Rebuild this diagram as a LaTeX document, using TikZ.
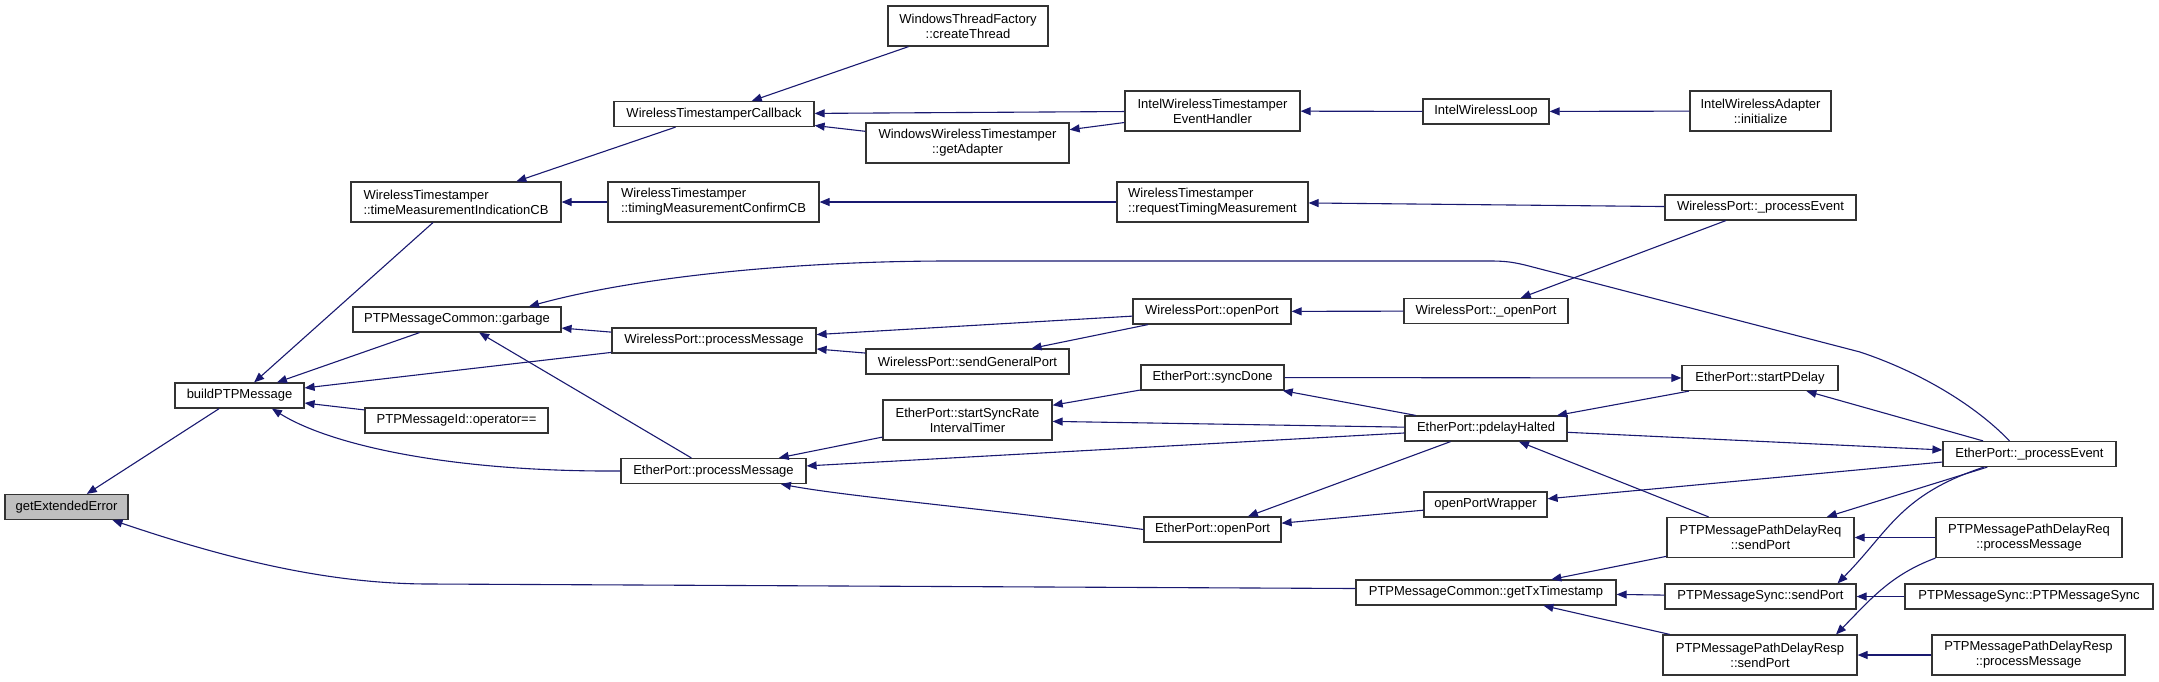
\documentclass[tikz,border=0pt]{standalone}
\usepackage{fontspec}
\setmainfont{Liberation Sans}
\usetikzlibrary{arrows.meta}
\definecolor{edgeblue}{HTML}{191970}

\begin{document}
\begin{tikzpicture}[x=1pt, y=-1pt,
  func/.style={draw=black!80, line width=1.2pt, fill=white, inner sep=0pt, minimum height=25pt, align=center, font=\fontsize{13}{15}\selectfont},
  func2/.style={func, minimum height=40pt},
  root/.style={func, fill=black!25},
  call/.style={draw=edgeblue, line width=1.1pt, -{Triangle[length=10pt,width=8pt]}}
]
\useasboundingbox (0,0) rectangle (2159,681);

\node[root, minimum width=123pt] (geterr) at (66.5,507) {getExtendedError};
\node[func, minimum width=129pt] (build) at (239.5,395.5) {buildPTPMessage};

\node[func2, minimum width=210pt, align=left] (tmind) at (456,202) {WirelessTimestamper\\::timeMeasurementIndicationCB};
\node[func, minimum width=208pt] (garbage) at (457,319.5) {PTPMessageCommon::garbage};
\node[func, minimum width=183pt] (opeq) at (456.5,420.5) {PTPMessageId::operator==};

\node[func, minimum width=200pt] (wtcb) at (714,114) {WirelessTimestamperCallback};
\node[func2, minimum width=211pt, align=left] (tmconf) at (713.5,202) {WirelessTimestamper\\::timingMeasurementConfirmCB};
\node[func, minimum width=204pt] (wpmsg) at (714,340.5) {WirelessPort::processMessage};
\node[func, minimum width=185pt] (epmsg) at (713.5,471) {EtherPort::processMessage};

\node[func2, minimum width=160pt] (mkthread) at (968,26) {WindowsThreadFactory\\::createThread};
\node[func2, minimum width=203pt] (adapter) at (967.5,143) {WindowsWirelessTimestamper\\::getAdapter};
\node[func, minimum width=203pt] (sendgen) at (967.5,361.5) {WirelessPort::sendGeneralPort};
\node[func2, minimum width=169pt] (ratetimer) at (967.5,420) {EtherPort::startSyncRate\\IntervalTimer};

\node[func2, minimum width=175pt] (iwevent) at (1212.5,111) {IntelWirelessTimestamper\\EventHandler};
\node[func2, minimum width=191pt, align=left] (reqtm) at (1212.5,202) {WirelessTimestamper\\::requestTimingMeasurement};
\node[func, minimum width=158pt] (wpopen) at (1212,311.5) {WirelessPort::openPort};
\node[func, minimum width=143pt] (syncdone) at (1212.5,377.5) {EtherPort::syncDone};
\node[func, minimum width=137pt] (epopen) at (1212.5,529.5) {EtherPort::openPort};

\node[func, minimum width=126pt] (iwloop) at (1486,111.5) {IntelWirelessLoop};
\node[func, minimum width=164pt] (wpopenu) at (1486,311) {WirelessPort::\_openPort};
\node[func, minimum width=162pt] (halted) at (1486,428.5) {EtherPort::pdelayHalted};
\node[func, minimum width=123pt] (wrapper) at (1485.5,504.5) {openPortWrapper};
\node[func, minimum width=260pt] (txstamp) at (1486,592.5) {PTPMessageCommon::getTxTimestamp};

\node[func2, minimum width=141pt] (iwinit) at (1760.5,111) {IntelWirelessAdapter\\::initialize};
\node[func, minimum width=191pt] (wpevent) at (1760.5,207.5) {WirelessPort::\_processEvent};
\node[func, minimum width=156pt] (pdelay) at (1760,378) {EtherPort::startPDelay};
\node[func2, minimum width=187pt] (reqsend) at (1760.5,537.5) {PTPMessagePathDelayReq\\::sendPort};
\node[func, minimum width=191pt] (syncsend) at (1760.5,596.5) {PTPMessageSync::sendPort};
\node[func2, minimum width=194pt] (respsend) at (1760,655) {PTPMessagePathDelayResp\\::sendPort};

\node[func, minimum width=173pt] (epevent) at (2029.5,454) {EtherPort::\_processEvent};
\node[func2, minimum width=186pt] (reqmsg) at (2029,537.5) {PTPMessagePathDelayReq\\::processMessage};
\node[func, minimum width=248pt] (synctor) at (2029,596.5) {PTPMessageSync::PTPMessageSync};
\node[func2, minimum width=193pt] (respmsg) at (2028.5,655) {PTPMessagePathDelayResp\\::processMessage};

\draw[call] (build) -- (geterr);
\draw[call] ([yshift=4pt]txstamp.west) -- (430,584) .. controls (330,584) and (230,560) .. ([xshift=46pt]geterr.south);
\draw[call] (tmind) -- (build);
\draw[call] (garbage) -- (build);
\draw[call] (wpmsg) -- (build);
\draw[call] (opeq) -- (build);
\draw[call] (epmsg.west) .. controls (450,472) and (330,445) .. (build.-22);
\draw[call] (wtcb) -- (tmind);
\draw[call] (tmconf) -- (tmind);
\draw[call] (mkthread) -- (wtcb);
\draw[call] (iwevent) -- (wtcb);
\draw[call] (adapter) -- (wtcb);
\draw[call] (iwevent) -- (adapter);
\draw[call] (iwloop) -- (iwevent);
\draw[call] (iwinit) -- (iwloop);
\draw[call] (reqtm) -- (tmconf);
\draw[call] (wpevent) -- (reqtm);
\draw[call] (wpevent) -- (wpopenu);
\draw[call] (wpopenu) -- (wpopen);
\draw[call] (wpopen) -- (wpmsg);
\draw[call] (wpopen) -- (sendgen);
\draw[call] (sendgen) -- (wpmsg);
\draw[call] (wpmsg) -- (garbage);
\draw[call] (epmsg) -- (garbage);
\draw[call] ([xshift=-20pt]epevent.north) .. controls (1975,405) and (1920,372) .. (1860,352) -- (1525,265) .. controls (1512,262) and (1505,261) .. (1490,261) -- (950,261) .. controls (800,261) and (640,276) .. ([xshift=72pt]garbage.north);
\draw[call] (syncdone) -- (ratetimer);
\draw[call] (halted) -- (ratetimer);
\draw[call] (ratetimer) -- (epmsg);
\draw[call] (halted) -- (epmsg);
\draw[call] (epopen.west) .. controls (1000,510) and (850,497) .. (epmsg.-11);
\draw[call] (syncdone) -- (pdelay);
\draw[call] (halted) -- (syncdone);
\draw[call] (pdelay) -- (halted);
\draw[call] (epevent) -- (pdelay);
\draw[call] (halted) -- (epevent);
\draw[call] (epevent) -- (wrapper);
\draw[call] (wrapper) -- (epopen);
\draw[call] (halted) -- (epopen);
\draw[call] (reqsend) -- (halted);
\draw[call] (epevent) -- (reqsend);
\draw[call] (epevent.-164) .. controls (1900,495) and (1890,530) .. ([xshift=77pt]syncsend.north);
\draw[call] (reqmsg.south west) .. controls (1890,575) and (1870,600) .. ([xshift=76pt]respsend.north);
\draw[call] (reqmsg) -- (reqsend);
\draw[call] (synctor) -- (syncsend);
\draw[call] (respmsg) -- (respsend);
\draw[call] (reqsend) -- (txstamp);
\draw[call] (syncsend) -- (txstamp);
\draw[call] (respsend) -- (txstamp);
\end{tikzpicture}
\end{document}
